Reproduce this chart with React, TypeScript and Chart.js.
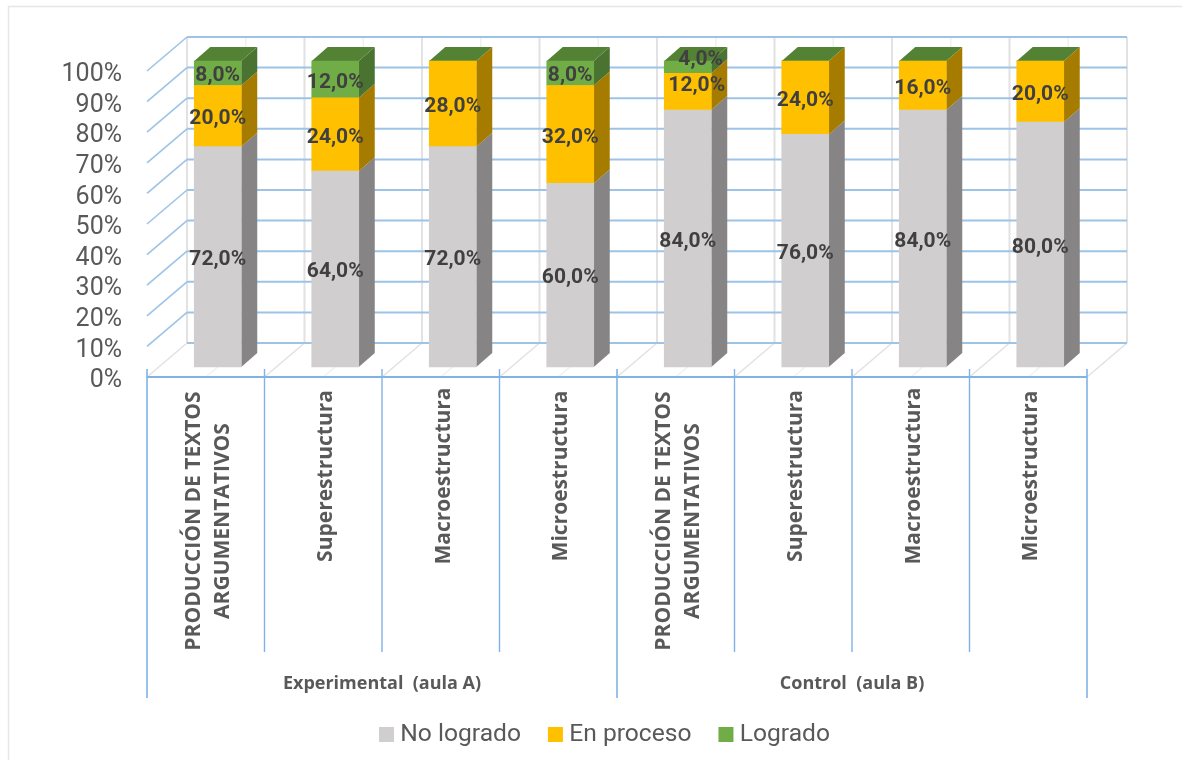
import React, { useEffect, useRef } from "react";
import { Chart, registerables } from "chart.js";

Chart.register(...registerables);

const categories: (string | string[])[] = [
  ["PRODUCCIÓN DE TEXTOS", "ARGUMENTATIVOS"],
  "Superestructura",
  "Macroestructura",
  "Microestructura",
  ["PRODUCCIÓN DE TEXTOS", "ARGUMENTATIVOS"],
  "Superestructura",
  "Macroestructura",
  "Microestructura",
];
const groups = ["Experimental  (aula A)", "Control  (aula B)"];
const noLogrado = [72, 64, 72, 60, 84, 76, 84, 80];
const enProceso = [20, 24, 28, 32, 12, 24, 16, 20];
const logrado = [8, 12, 0, 8, 4, 0, 0, 0];

const WIDTH = 1182;
const HEIGHT = 760;
const FONT = '"Open Sans", sans-serif';
const LABEL_FONT = 'Roboto, sans-serif';
const TEXT = "#595959";
const BLUE = "#7fb3e6";
const WALL_BLUE = "#9dc3e6";
const BAR_SHIFT = { x: 12, y: -10 };
const BAR_DEPTH = { x: 16, y: -14 };
const WALL_SHIFT = { x: 40, y: -34 };
const SIDE_COLORS = ["#868484", "#a67c00", "#4a7230"];
const TOP_COLOR = "#548235";

const line = (ctx: CanvasRenderingContext2D, x1: number, y1: number, x2: number, y2: number, color: string, width: number) => {
  ctx.beginPath();
  ctx.moveTo(x1, y1);
  ctx.lineTo(x2, y2);
  ctx.strokeStyle = color;
  ctx.lineWidth = width;
  ctx.stroke();
};

const poly = (ctx: CanvasRenderingContext2D, pts: number[][], color: string) => {
  ctx.beginPath();
  pts.forEach(([x, y], i) => (i ? ctx.lineTo(x, y) : ctx.moveTo(x, y)));
  ctx.closePath();
  ctx.fillStyle = color;
  ctx.fill();
};

// Outer frame, back wall, side wall, floor and the two-level category axis.
const wallsPlugin = {
  id: "walls",
  beforeDraw(chart: any) {
    const { ctx, scales, chartArea } = chart;
    const { x: xs, y: ys } = scales;
    const { left, right, bottom } = chartArea;
    const step = (right - left) / categories.length;
    ctx.save();
    ctx.fillStyle = "#ffffff";
    ctx.fillRect(0, 0, WIDTH, HEIGHT);
    line(ctx, 8, 6.5, WIDTH, 6.5, "#e6e6e6", 1.5);
    line(ctx, 8.5, 6, 8.5, HEIGHT, "#e6e6e6", 1.5);

    const wallTop = ys.getPixelForValue(100) + WALL_SHIFT.y;
    const wallBottom = ys.getPixelForValue(0) + WALL_SHIFT.y;
    for (let i = 0; i <= categories.length * 2; i++) {
      const x = left + (i * step) / 2;
      const major = i % 2 === 0;
      const color = major ? "#e2e2e2" : "#f0f0f0";
      line(ctx, x + WALL_SHIFT.x, wallTop, x + WALL_SHIFT.x, wallBottom, color, major ? 2 : 1.5);
      line(ctx, x, bottom, x + WALL_SHIFT.x, wallBottom, color, major ? 1.5 : 1.2);
    }
    for (let v = 0; v <= 100; v += 10) {
      const y = ys.getPixelForValue(v);
      line(ctx, left + WALL_SHIFT.x, y + WALL_SHIFT.y, right + WALL_SHIFT.x, y + WALL_SHIFT.y, WALL_BLUE, 2);
      if (v > 0) line(ctx, left, y, left + WALL_SHIFT.x, y + WALL_SHIFT.y, WALL_BLUE, 1.6);
    }

    line(ctx, left, bottom, right, bottom, BLUE, 2);
    const tickEnd = 652;
    const groupEnd = 698;
    for (let i = 0; i <= categories.length; i++) {
      const x = left + i * step;
      line(ctx, x, bottom - 8, x, i % 4 === 0 ? groupEnd : tickEnd, BLUE, i % 4 === 0 ? 1.6 : 1.4);
    }

    ctx.fillStyle = TEXT;
    ctx.textAlign = "center";
    ctx.textBaseline = "middle";
    ctx.font = `700 21px ${FONT}`;
    categories.forEach((label, i) => {
      const lines = Array.isArray(label) ? label : [label];
      ctx.save();
      ctx.translate(xs.getPixelForValue(i), 0);
      ctx.rotate(-Math.PI / 2);
      lines.forEach((text, n) => {
        const textCenter = Array.isArray(label) ? 521 : 476;
        const offset = (n - (lines.length - 1) / 2) * 29;
        ctx.fillText(text, -textCenter, offset + 3);
      });
      ctx.restore();
    });
    ctx.font = `700 18px ${FONT}`;
    groups.forEach((text, i) => {
      ctx.fillText(text, left + step * (2 + i * 4), 684);
    });
    ctx.restore();
  },
};

// Moves the bars into the depth of the box and adds their right and top faces.
const solidBarsPlugin = {
  id: "solidBars",
  beforeDatasetsDraw(chart: any) {
    const { ctx } = chart;
    ctx.save();
    ctx.translate(BAR_SHIFT.x, BAR_SHIFT.y);
    chart.data.datasets.forEach((_: any, d: number) => {
      chart.getDatasetMeta(d).data.forEach((bar: any) => {
        const right = bar.x + bar.width / 2;
        const left = bar.x - bar.width / 2;
        if (bar.base - bar.y > 0.1) {
          poly(
            ctx,
            [
              [right, bar.y],
              [right + BAR_DEPTH.x, bar.y + BAR_DEPTH.y],
              [right + BAR_DEPTH.x, bar.base + BAR_DEPTH.y],
              [right, bar.base],
            ],
            SIDE_COLORS[d]
          );
        }
        if (d === chart.data.datasets.length - 1) {
          poly(
            ctx,
            [
              [left, bar.y],
              [left + BAR_DEPTH.x, bar.y + BAR_DEPTH.y],
              [right + BAR_DEPTH.x, bar.y + BAR_DEPTH.y],
              [right, bar.y],
            ],
            TOP_COLOR
          );
        }
      });
    });
  },
  afterDatasetsDraw(chart: any) {
    const { ctx } = chart;
    // Two crowded labels of the fifth column sit off-centre.
    const labelNudge: Record<string, number[]> = { "2:4": [13, -10], "1:4": [9, -9] };
    ctx.font = `700 21px ${LABEL_FONT}`;
    ctx.fillStyle = "#404040";
    ctx.textAlign = "center";
    ctx.textBaseline = "middle";
    chart.data.datasets.forEach((ds: any, d: number) => {
      chart.getDatasetMeta(d).data.forEach((bar: any, i: number) => {
        const value = ds.data[i];
        if (!value) return;
        const [dx, dy] = labelNudge[`${d}:${i}`] ?? [0, 0];
        const text = value.toFixed(1).replace(".", ",") + "%";
        ctx.fillText(text, bar.x + dx, (bar.y + bar.base) / 2 + dy + 3);
      });
    });
    ctx.restore();
  },
};

// Places the legend row under the group labels.
const legendPlacePlugin = {
  id: "legendPlace",
  afterLayout(chart: any) {
    const legend = chart.legend;
    const dx = 64;
    const dy = 723 - (legend.top + legend.height / 2);
    legend.left += dx;
    legend.right += dx;
    legend.top += dy;
    legend.bottom += dy;
  },
};

export default function App() {
  const ref = useRef<HTMLCanvasElement>(null);

  useEffect(() => {
    document.body.style.margin = "0";
    const chart = new Chart(ref.current as HTMLCanvasElement, {
      type: "bar",
      data: {
        labels: categories as any,
        datasets: [
          { label: "No logrado", data: noLogrado, backgroundColor: "#d0cece" },
          { label: "En proceso", data: enProceso, backgroundColor: "#ffc000" },
          { label: "Logrado", data: logrado, backgroundColor: "#70ad47" },
        ],
      },
      options: {
        responsive: false,
        animation: false,
        layout: { padding: { top: 71, right: 95, left: 0, bottom: 0 } },
        datasets: { bar: { barThickness: 47, borderWidth: 0, clip: false as any } },
        scales: {
          x: {
            stacked: true,
            grid: { display: false },
            border: { display: false },
            ticks: { display: false, autoSkip: false },
            afterFit(scale: any) {
              scale.height = HEIGHT - 377 - (scale.chart.legend?.height ?? 0);
            },
          },
          y: {
            stacked: true,
            min: 0,
            max: 100,
            grid: { display: false, drawTicks: false },
            border: { display: false },
            ticks: {
              stepSize: 10,
              autoSkip: false,
              padding: 25,
              labelOffset: 4,
              color: TEXT,
              font: { family: LABEL_FONT, size: 25 },
              callback: (v: any) => `${v}%`,
            },
            afterFit(scale: any) {
              scale.width = 147;
            },
          },
        },
        plugins: {
          legend: {
            position: "bottom",
            labels: {
              usePointStyle: true,
              pointStyle: "rect",
              boxWidth: 3,
              boxHeight: 15,
              padding: 33,
              color: TEXT,
              font: { family: LABEL_FONT, size: 24.6 },
            },
          },
          tooltip: { enabled: false },
        },
      },
      plugins: [wallsPlugin, solidBarsPlugin, legendPlacePlugin],
    } as any);
    return () => chart.destroy();
  }, []);

  return <canvas ref={ref} width={WIDTH} height={HEIGHT} style={{ display: "block" }} />;
}
